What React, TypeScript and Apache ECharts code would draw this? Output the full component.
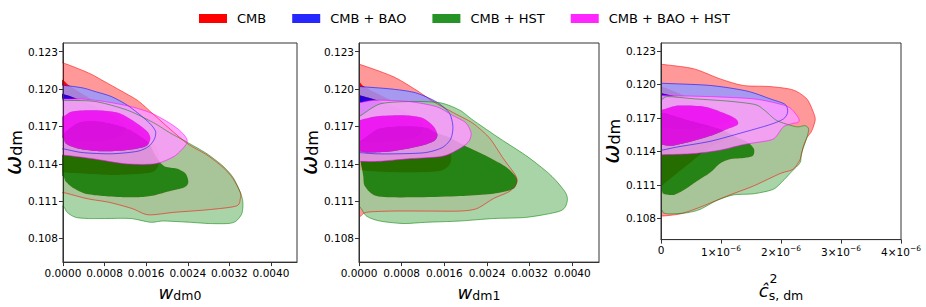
import React, { useEffect, useRef } from 'react';
import * as echarts from 'echarts';

type Pt = [number, number];

const SERIES_NAMES = ['CMB', 'CMB + BAO', 'CMB + HST', 'CMB + BAO + HST'];
const LINE_COLORS = ['#ff0000', '#0000ff', '#008000', '#ff00ff'];
const OUTER_FILLS = ['#ff9999', '#9999ff', '#99cc99', '#ff99ff'];
const INNER_FILLS = ['#ff0000', '#0000ff', '#008000', '#ff00ff'];
const FILL_ALPHA = [1, 0.85, 0.85, 0.85];
const LEGEND_COLORS = ['#ff0000', '#2626ff', '#269326', '#ff26ff'];

const W_TICKS = [0, 0.0008, 0.0016, 0.0024, 0.0032, 0.004];
const C_TICKS = [0, 1e-6, 2e-6, 3e-6, 4e-6];
const OMEGA_TICKS = [0.108, 0.111, 0.114, 0.117, 0.12, 0.123];

// ---------- Panel 1: w_dm0 vs omega_dm ----------
const P1_CMB_OUTER: Pt[] = [[-0.0002,0.1222],[0,0.1221],[0.00049,0.1213],[0.0008,0.1206],[0.0011,0.1199],[0.00143,0.1191],[0.00168,0.1182],[0.002,0.117],[0.0024,0.1156],[0.00277,0.1147],[0.00308,0.1137],[0.00327,0.1128],[0.00341,0.1117],[0.00341,0.1112],[0.00333,0.1106],[0.00277,0.1103],[0.00214,0.1101],[0.00164,0.1099],[0.00133,0.1104],[0.00089,0.1109],[0.00046,0.1112],[0,0.1117],[-0.0002,0.1118]];
const P1_CMB_INNER: Pt[] = [[-0.0002,0.1208],[0,0.1207],[0.00012,0.1203],[0.0005,0.1193],[0.001,0.1181],[0.0015,0.1166],[0.0018,0.1153],[0.00185,0.1141],[0.0017,0.1133],[0.001,0.1131],[0.0004,0.1132],[0,0.1133],[-0.0002,0.1133]];
const P1_BAO_OUTER: Pt[] = [[-0.0002,0.1203],[0,0.1203],[0.00037,0.1201],[0.00062,0.1198],[0.00093,0.1194],[0.00124,0.1187],[0.00149,0.1179],[0.00168,0.1172],[0.00178,0.1166],[0.00176,0.116],[0.00165,0.1154],[0.00143,0.115],[0.00093,0.1148],[0.00037,0.1149],[0,0.1152],[-0.0002,0.1152]];
const P1_BAO_INNER: Pt[] = [[-0.0002,0.1196],[0,0.1196],[0.0004,0.119],[0.0009,0.118],[0.0012,0.117],[0.0011,0.1162],[0.0007,0.1158],[0.0003,0.1158],[0,0.116],[-0.0002,0.116]];
const P1_HST_OUTER: Pt[] = [[-0.0002,0.1192],[0,0.1191],[0.00062,0.119],[0.00124,0.1183],[0.00174,0.1173],[0.00205,0.1165],[0.0024,0.1157],[0.00277,0.1148],[0.00308,0.1138],[0.00327,0.1129],[0.00341,0.1117],[0.00346,0.1109],[0.00344,0.11],[0.00333,0.1094],[0.00318,0.1092],[0.0028,0.1092],[0.00243,0.1093],[0.00193,0.1094],[0.00168,0.1093],[0.0013,0.1096],[0.0008,0.1096],[0.00049,0.1096],[0.00024,0.1097],[0.00008,0.1101],[0,0.1106],[-0.0002,0.1107]];
const P1_HST_INNER: Pt[] = [[-0.0002,0.1163],[0,0.1163],[0.00006,0.1166],[0.00031,0.1173],[0.00062,0.1174],[0.00093,0.1172],[0.00124,0.1168],[0.00149,0.1162],[0.00166,0.1156],[0.00178,0.1146],[0.00195,0.1138],[0.0022,0.1136],[0.00236,0.1132],[0.00241,0.1125],[0.00233,0.1121],[0.00205,0.1118],[0.00168,0.1114],[0.0013,0.1113],[0.0008,0.1114],[0.00043,0.1116],[0.00018,0.1121],[0.00005,0.1126],[0,0.113],[-0.0002,0.1131]];
const P1_ALL_OUTER: Pt[] = [[-0.0002,0.1192],[0,0.1192],[0.00036,0.1192],[0.0008,0.119],[0.0013,0.1186],[0.00168,0.1181],[0.002,0.1174],[0.00224,0.1167],[0.00238,0.116],[0.00236,0.1155],[0.00214,0.1146],[0.00177,0.114],[0.0012,0.114],[0.00058,0.1144],[0,0.1147],[-0.0002,0.1147]];
const P1_ALL_INNER: Pt[] = [[-0.0002,0.1178],[0,0.1178],[0.00018,0.1182],[0.00062,0.1183],[0.00106,0.1181],[0.00137,0.1174],[0.00162,0.1166],[0.00168,0.116],[0.00159,0.1154],[0.00124,0.1151],[0.00074,0.115],[0.00031,0.1152],[0.00006,0.1156],[0,0.1161],[-0.0002,0.1161]];

// ---------- Panel 2: w_dm1 vs omega_dm ----------
const P2_CMB_OUTER: Pt[] = [[-0.0002,0.1221],[0,0.122],[0.00064,0.121],[0.00108,0.1199],[0.00139,0.119],[0.00177,0.1181],[0.00208,0.1174],[0.00224,0.1169],[0.00246,0.116],[0.00271,0.1144],[0.00293,0.1131],[0.00296,0.1125],[0.00283,0.1118],[0.00252,0.1112],[0.00221,0.1104],[0.00189,0.1102],[0.00127,0.1102],[0.00064,0.1102],[0.00014,0.1101],[0,0.1097],[-0.0002,0.1096]];
const P2_CMB_INNER: Pt[] = [[-0.0002,0.1206],[0,0.1206],[0.0001,0.1202],[0.0006,0.1191],[0.0011,0.118],[0.0015,0.1168],[0.0017,0.1155],[0.00172,0.1141],[0.0015,0.1134],[0.0008,0.1133],[0.0002,0.1134],[0,0.1135],[-0.0002,0.1135]];
const P2_BAO_OUTER: Pt[] = [[-0.0002,0.1202],[0,0.1202],[0.00062,0.12],[0.00106,0.1197],[0.00144,0.119],[0.00169,0.1181],[0.00176,0.117],[0.00172,0.116],[0.00156,0.1153],[0.00125,0.1149],[0.00075,0.1148],[0.00031,0.1148],[0,0.1149],[-0.0002,0.1149]];
const P2_BAO_INNER: Pt[] = [[-0.0002,0.1195],[0,0.1195],[0.0004,0.119],[0.0009,0.1181],[0.0012,0.1171],[0.0011,0.1162],[0.0007,0.1158],[0.0003,0.1157],[0,0.1158],[-0.0002,0.1158]];
const P2_HST_OUTER: Pt[] = [[-0.0002,0.1177],[0,0.1178],[0.00039,0.1188],[0.00095,0.119],[0.00152,0.1189],[0.00189,0.1183],[0.00214,0.1175],[0.00265,0.116],[0.00315,0.1146],[0.00359,0.1131],[0.00387,0.1117],[0.0039,0.1109],[0.00377,0.1102],[0.00315,0.1097],[0.00252,0.1096],[0.00189,0.1094],[0.00127,0.1093],[0.00083,0.1092],[0.00039,0.1094],[0.00014,0.1098],[0,0.1106],[-0.0002,0.1107]];
const P2_HST_INNER: Pt[] = [[-0.0002,0.1158],[0,0.1158],[0.00009,0.116],[0.00037,0.1168],[0.00081,0.117],[0.00125,0.1169],[0.00144,0.1165],[0.0017,0.1161],[0.00196,0.1155],[0.0024,0.1146],[0.00277,0.1137],[0.00296,0.1128],[0.0029,0.112],[0.00252,0.1116],[0.00189,0.1114],[0.00095,0.1113],[0.00033,0.1114],[0.00011,0.1122],[0.00008,0.113],[0.00004,0.114],[0,0.1145],[-0.0002,0.1145]];
const P2_ALL_OUTER: Pt[] = [[-0.0002,0.1189],[0,0.1189],[0.00031,0.1191],[0.00093,0.119],[0.00144,0.1186],[0.00175,0.1179],[0.002,0.1173],[0.0021,0.1165],[0.00206,0.1158],[0.00188,0.1152],[0.00156,0.1146],[0.00093,0.1144],[0.00037,0.1142],[0,0.1142],[-0.0002,0.1142]];
const P2_ALL_INNER: Pt[] = [[-0.0002,0.1175],[0,0.1175],[0.00031,0.1178],[0.00081,0.1179],[0.00118,0.1177],[0.0014,0.117],[0.00147,0.1163],[0.0014,0.1158],[0.00112,0.1154],[0.00062,0.115],[0.00019,0.1149],[0,0.115],[-0.0002,0.115]];

// ---------- Panel 3: c_s,dm^2 vs omega_dm ----------
const P3_CMB_OUTER: Pt[] = [[-0.2e-6,0.1219],[0,0.1218],[0.54e-6,0.1214],[0.98e-6,0.1205],[1.37e-6,0.1199],[1.82e-6,0.1198],[2.2e-6,0.1195],[2.43e-6,0.1187],[2.54e-6,0.1175],[2.57e-6,0.1168],[2.51e-6,0.1158],[2.43e-6,0.1152],[2.37e-6,0.1144],[2.32e-6,0.1133],[2.2e-6,0.1124],[1.98e-6,0.112],[1.54e-6,0.1109],[1.1e-6,0.11],[0.65e-6,0.109],[0.32e-6,0.1084],[0,0.1082],[-0.2e-6,0.1082]];
const P3_CMB_INNER: Pt[] = [[-0.2e-6,0.1198],[0,0.1198],[0.3e-6,0.1192],[0.8e-6,0.1178],[1.2e-6,0.1164],[1.1e-6,0.1152],[0.8e-6,0.1143],[0.4e-6,0.1126],[0.1e-6,0.1113],[0,0.1109],[-0.2e-6,0.1109]];
const P3_BAO_OUTER: Pt[] = [[-0.2e-6,0.1202],[0,0.1201],[0.82e-6,0.1199],[1.43e-6,0.1194],[1.82e-6,0.1187],[2.07e-6,0.1182],[2.11e-6,0.1175],[2.04e-6,0.1169],[1.82e-6,0.1164],[1.37e-6,0.1157],[0.82e-6,0.1149],[0.28e-6,0.1144],[0,0.1141],[-0.2e-6,0.1141]];
const P3_BAO_INNER: Pt[] = [[-0.2e-6,0.1192],[0,0.1192],[0.4e-6,0.1187],[1.0e-6,0.1177],[1.2e-6,0.1169],[0.9e-6,0.1163],[0.4e-6,0.116],[0,0.1161],[-0.2e-6,0.1161]];
const P3_HST_OUTER: Pt[] = [[-0.2e-6,0.1186],[0,0.1186],[0.11e-6,0.1189],[0.56e-6,0.1187],[1.11e-6,0.1185],[1.56e-6,0.1182],[1.72e-6,0.1177],[1.89e-6,0.1169],[2.0e-6,0.1166],[2.26e-6,0.1162],[2.4e-6,0.1163],[2.46e-6,0.116],[2.43e-6,0.1152],[2.34e-6,0.1138],[2.32e-6,0.113],[2.18e-6,0.1122],[2.04e-6,0.1114],[1.87e-6,0.1106],[1.54e-6,0.1102],[1.21e-6,0.1101],[0.93e-6,0.1096],[0.65e-6,0.1088],[0.43e-6,0.1085],[0.15e-6,0.1084],[0.04e-6,0.1085],[0,0.1088],[-0.2e-6,0.1088]];
const P3_HST_INNER: Pt[] = [[-0.2e-6,0.1174],[0,0.1174],[0.07e-6,0.1174],[0.5e-6,0.1167],[0.98e-6,0.116],[1.25e-6,0.1153],[1.45e-6,0.1148],[1.55e-6,0.1142],[1.53e-6,0.1136],[1.37e-6,0.1134],[1.15e-6,0.1133],[0.98e-6,0.1129],[0.82e-6,0.1121],[0.59e-6,0.1113],[0.4e-6,0.1106],[0.21e-6,0.1101],[0.04e-6,0.1102],[0,0.1105],[-0.2e-6,0.1105]];
const P3_ALL_OUTER: Pt[] = [[-0.2e-6,0.119],[0,0.119],[0.82e-6,0.1189],[1.54e-6,0.1187],[1.93e-6,0.1183],[2.15e-6,0.1179],[2.29e-6,0.117],[2.29e-6,0.1166],[2.2e-6,0.1165],[2.04e-6,0.1162],[1.93e-6,0.1154],[1.82e-6,0.115],[1.37e-6,0.1146],[0.98e-6,0.1141],[0.54e-6,0.1138],[0,0.1137],[-0.2e-6,0.1137]];
const P3_ALL_INNER: Pt[] = [[-0.2e-6,0.1177],[0,0.1177],[0.28e-6,0.1181],[0.72e-6,0.118],[1.06e-6,0.1174],[1.25e-6,0.1169],[1.28e-6,0.1164],[1.11e-6,0.116],[0.83e-6,0.1154],[0.44e-6,0.1148],[0.17e-6,0.1145],[0,0.1146],[-0.2e-6,0.1146]];

const PANEL_OUTER: Pt[][][] = [
  [P1_CMB_OUTER, P1_BAO_OUTER, P1_HST_OUTER, P1_ALL_OUTER],
  [P2_CMB_OUTER, P2_BAO_OUTER, P2_HST_OUTER, P2_ALL_OUTER],
  [P3_CMB_OUTER, P3_BAO_OUTER, P3_HST_OUTER, P3_ALL_OUTER],
];
const PANEL_INNER: Pt[][][] = [
  [P1_CMB_INNER, P1_BAO_INNER, P1_HST_INNER, P1_ALL_INNER],
  [P2_CMB_INNER, P2_BAO_INNER, P2_HST_INNER, P2_ALL_INNER],
  [P3_CMB_INNER, P3_BAO_INNER, P3_HST_INNER, P3_ALL_INNER],
];

const FONT = 'DejaVu Sans';

function rgba(hex: string, a: number) {
  const n = parseInt(hex.slice(1), 16);
  return `rgba(${(n >> 16) & 255},${(n >> 8) & 255},${n & 255},${a})`;
}

// Closed Catmull-Rom curve through pixel points, sampled as a dense polygon.
function sampleClosed(P: number[][], seg = 10, tension = 0.8): number[][] {
  const n = P.length;
  const out: number[][] = [];
  for (let i = 0; i < n; i++) {
    const p0 = P[(i - 1 + n) % n], p1 = P[i], p2 = P[(i + 1) % n], p3 = P[(i + 2) % n];
    const m1x = ((p2[0] - p0[0]) / 2) * tension, m1y = ((p2[1] - p0[1]) / 2) * tension;
    const m2x = ((p3[0] - p1[0]) / 2) * tension, m2y = ((p3[1] - p1[1]) / 2) * tension;
    for (let k = 0; k < seg; k++) {
      const t = k / seg, t2 = t * t, t3 = t2 * t;
      const h00 = 2 * t3 - 3 * t2 + 1, h10 = t3 - 2 * t2 + t, h01 = -2 * t3 + 3 * t2, h11 = t3 - t2;
      out.push([
        h00 * p1[0] + h10 * m1x + h01 * p2[0] + h11 * m2x,
        h00 * p1[1] + h10 * m1y + h01 * p2[1] + h11 * m2y,
      ]);
    }
  }
  return out;
}

function signedArea(P: number[][]) {
  let a = 0;
  for (let i = 0; i < P.length; i++) {
    const p = P[i], q = P[(i + 1) % P.length];
    a += p[0] * q[1] - q[0] * p[1];
  }
  return a;
}

function baseSeries(name: string, gi: number, anchor: Pt, fill: string) {
  return {
    type: 'custom',
    name,
    xAxisIndex: gi,
    yAxisIndex: gi,
    coordinateSystem: 'cartesian2d',
    clip: true,
    silent: true,
    animation: false,
    itemStyle: { color: fill },
    data: [[anchor[0], anchor[1]]],
  };
}

// Outer (2 sigma) band: outer region minus inner region, like contourf bands.
function ringSeries(name: string, gi: number, outer: Pt[], inner: Pt[], fill: string) {
  return {
    ...baseSeries(name, gi, outer[1], fill),
    renderItem: (_p: any, api: any) => {
      const O = sampleClosed(outer.map((p) => api.coord(p)));
      let I = sampleClosed(inner.map((p) => api.coord(p)));
      if (Math.sign(signedArea(O)) === Math.sign(signedArea(I))) {
        I = [I[0], ...I.slice(1).reverse()];
      }
      return {
        type: 'polygon',
        shape: { points: [...O, O[0], ...I, I[0]] },
        style: { fill, stroke: 'none' },
      };
    },
  };
}

function fillSeries(name: string, gi: number, pts: Pt[], fill: string) {
  return {
    ...baseSeries(name, gi, pts[1], fill),
    renderItem: (_p: any, api: any) => ({
      type: 'polygon',
      shape: { points: sampleClosed(pts.map((p) => api.coord(p))) },
      style: { fill, stroke: 'none' },
    }),
  };
}

function lineSeries(name: string, gi: number, pts: Pt[], stroke: string) {
  return {
    ...baseSeries(name, gi, pts[1], stroke),
    renderItem: (_p: any, api: any) => ({
      type: 'polygon',
      shape: { points: sampleClosed(pts.map((p) => api.coord(p))) },
      style: { fill: 'none', stroke, lineWidth: 1 },
    }),
  };
}

const GRID_LEFTS = [57, 359, 661];

export default function App() {
  const ref = useRef<HTMLDivElement>(null);
  useEffect(() => {
    if (!ref.current) return;
    const chart = echarts.init(ref.current, undefined, { renderer: 'svg' });

    const grids = GRID_LEFTS.map((left) => ({
      left, top: 43, width: 240, height: 221,
      show: true, borderColor: '#333', borderWidth: 1, backgroundColor: 'transparent',
    }));

    const axisCommon = {
      type: 'value',
      z: 10,
      splitLine: { show: false },
      axisLine: { show: true, onZero: false, lineStyle: { color: '#333', width: 1 } },
    };

    const xNames = ['{w|w}{s|dm0}', '{w|w}{s|dm1}', '{p|2}\n{w|ĉ}{q|s, dm}'];
    const xAxes = [0, 1, 2].map((i) => ({
      ...axisCommon,
      gridIndex: i,
      min: 0,
      max: i < 2 ? 0.0045 : 4e-6,
      axisTick: { show: true, length: 4, customValues: i < 2 ? W_TICKS : C_TICKS, lineStyle: { color: '#333' } },
      axisLabel: {
        customValues: i < 2 ? W_TICKS : C_TICKS,
        formatter: (v: number) =>
          i < 2 ? v.toFixed(4) : v === 0 ? '{a|0}' : `{a|${Math.round(v * 1e6)}×10}{b|−6}`,
        margin: 5, fontSize: 10.5, color: '#000', fontFamily: FONT,
        rich: {
          a: { fontSize: 10.5, color: '#000', fontFamily: FONT },
          b: { fontSize: 7.5, color: '#000', fontFamily: FONT, padding: [0, 0, 6, 0] },
        },
      },
      name: xNames[i],
      nameLocation: 'middle',
      nameGap: i < 2 ? 15 : 13,
      nameTextStyle: {
        fontFamily: FONT, color: '#000',
        rich: {
          w: { fontSize: 18, fontStyle: 'italic', fontFamily: FONT, color: '#000' },
          s: { fontSize: 12.5, fontFamily: FONT, color: '#000', padding: [7, 0, 0, 0] },
          q: { fontSize: 12.5, fontFamily: FONT, color: '#000', padding: [11, 0, 0, 0] },
          p: { fontSize: 12.5, fontFamily: FONT, color: '#000', padding: [10, 15, 0, 0], lineHeight: 9 },
        },
      },
    }));

    const yAxes = [0, 1, 2].map((i) => ({
      ...axisCommon,
      gridIndex: i,
      min: 0.1061,
      max: 0.1237,
      axisTick: { show: true, length: 4, customValues: OMEGA_TICKS, lineStyle: { color: '#333' } },
      axisLabel: {
        customValues: OMEGA_TICKS,
        formatter: (v: number) => v.toFixed(3),
        margin: 5, fontSize: 10.5, color: '#000', fontFamily: FONT,
      },
      name: '{w|ω}{s|dm}',
      nameLocation: 'middle',
      nameRotate: 90,
      nameGap: 33,
      nameTextStyle: {
        fontFamily: FONT, color: '#000',
        rich: {
          w: { fontSize: 23, fontStyle: 'italic', fontFamily: FONT, color: '#000' },
          s: { fontSize: 16, fontFamily: FONT, color: '#000', padding: [7, 0, 0, 0] },
        },
      },
    }));

    const series: any[] = [];
    for (let p = 0; p < 3; p++) {
      for (let s = 0; s < 4; s++) {
        series.push(ringSeries(SERIES_NAMES[s], p, PANEL_OUTER[p][s], PANEL_INNER[p][s], rgba(OUTER_FILLS[s], FILL_ALPHA[s])));
        series.push(fillSeries(SERIES_NAMES[s], p, PANEL_INNER[p][s], rgba(INNER_FILLS[s], FILL_ALPHA[s])));
      }
      for (let s = 0; s < 4; s++) {
        series.push(lineSeries(SERIES_NAMES[s], p, PANEL_OUTER[p][s], rgba(LINE_COLORS[s], 0.55)));
      }
    }

    chart.setOption({
      animation: false,
      textStyle: { fontFamily: FONT },
      legend: {
        left: 199,
        top: 12,
        padding: 0,
        itemWidth: 28,
        itemHeight: 9,
        itemGap: 26,
        icon: 'rect',
        selectedMode: false,
        textStyle: { fontSize: 13, fontFamily: FONT, color: '#000', padding: [0, 0, 0, 5] },
        data: SERIES_NAMES.map((n, i) => ({ name: n, itemStyle: { color: LEGEND_COLORS[i], borderWidth: 0 } })),
      },
      grid: grids,
      xAxis: xAxes,
      yAxis: yAxes,
      series,
    });
    return () => chart.dispose();
  }, []);
  return <div ref={ref} style={{ position: 'absolute', left: 0, top: 0, width: '926px', height: '307px' }} />;
}
